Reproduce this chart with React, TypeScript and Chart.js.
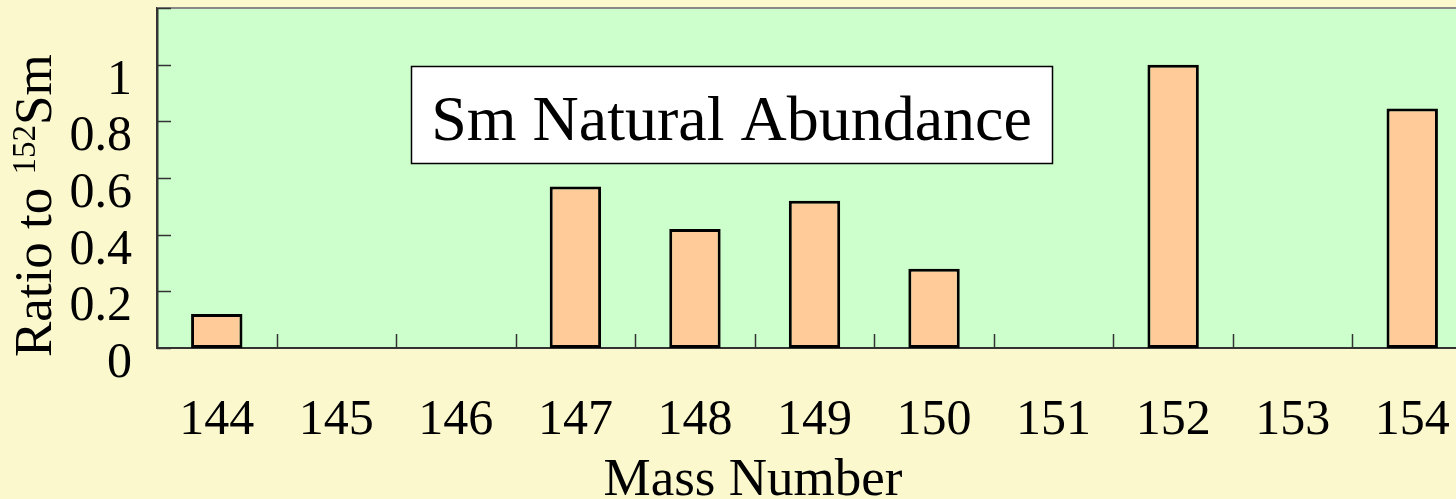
import React, { useEffect, useRef } from 'react';
import { Chart, registerables } from 'chart.js';

Chart.register(...registerables);

// ---- data ----
const massNumbers = ['144', '145', '146', '147', '148', '149', '150', '151', '152', '153', '154'];
const ratioTo152 = [0.12, null, null, 0.57, 0.42, 0.52, 0.28, null, 1.0, null, 0.845];
const yTickValues = [0, 0.2, 0.4, 0.6, 0.8, 1, 1.2];
const yLabelMax = 1;
const yMin = 0;
const yMax = 1.2;
const yTitleMain = 'Ratio to ';
const yTitleSup = '152';
const yTitleEnd = 'Sm';
const xTitle = 'Mass Number';
const boxTitle = 'Sm Natural Abundance';

// ---- styles ----
const SERIF = '"Liberation Serif", "Times New Roman", Times, serif';
const PAGE_BG = '#FBF8CE';
const PLOT_BG = '#CCFFCC';
const BAR_FILL = '#FFCC99';
const CANVAS_W = 1472;
const CANVAS_H = 520;
const PLOT_LEFT = 157;
const PLOT_BOTTOM = 348;

const decorPlugin = {
  id: 'decor',
  beforeDraw(chart: any) {
    const { ctx, chartArea: a, width, height } = chart;
    ctx.save();
    ctx.fillStyle = PAGE_BG;
    ctx.fillRect(0, 0, width, height);
    ctx.fillStyle = PLOT_BG;
    ctx.fillRect(a.left, a.top, a.right - a.left, a.bottom - a.top);
    ctx.restore();
  },
  afterDraw(chart: any) {
    const { ctx, chartArea: a } = chart;
    const xs = chart.scales.x;
    const ys = chart.scales.y;
    ctx.save();
    // top border
    ctx.strokeStyle = '#888888';
    ctx.lineWidth = 2;
    ctx.beginPath();
    ctx.moveTo(a.left, a.top);
    ctx.lineTo(a.right, a.top);
    ctx.stroke();
    // inward y ticks
    ctx.strokeStyle = '#333333';
    ctx.lineWidth = 1.5;
    yTickValues.forEach((v) => {
      const y = Math.round(ys.getPixelForValue(v)) + 0.5;
      ctx.beginPath();
      ctx.moveTo(a.left, y);
      ctx.lineTo(a.left + 14, y);
      ctx.stroke();
    });
    // inward x ticks at category boundaries
    for (let i = 0; i < massNumbers.length - 1; i++) {
      const x = Math.round((xs.getPixelForValue(i) + xs.getPixelForValue(i + 1)) / 2) + 0.5;
      ctx.beginPath();
      ctx.moveTo(x, a.bottom);
      ctx.lineTo(x, a.bottom - 14);
      ctx.stroke();
    }
    // annotation box
    const bx = 411, by = 66, bw = 641, bh = 97;
    ctx.fillStyle = '#FFFFFF';
    ctx.fillRect(bx, by, bw, bh);
    ctx.strokeStyle = '#000000';
    ctx.lineWidth = 1.5;
    ctx.strokeRect(bx + 0.5, by + 0.5, bw, bh);
    ctx.fillStyle = '#000000';
    ctx.font = `64px ${SERIF}`;
    ctx.textAlign = 'center';
    ctx.textBaseline = 'alphabetic';
    ctx.fillText(boxTitle, bx + bw / 2, 140);
    // x axis title
    ctx.font = `53px ${SERIF}`;
    ctx.fillText(xTitle, 753, 495);
    // y axis title with superscript
    ctx.translate(51, 357);
    ctx.rotate(-Math.PI / 2);
    ctx.textAlign = 'left';
    ctx.font = `53px ${SERIF}`;
    ctx.fillText(yTitleMain, 0, 0);
    let w = ctx.measureText(yTitleMain).width;
    ctx.font = `33px ${SERIF}`;
    ctx.fillText(yTitleSup, w, -16);
    w += ctx.measureText(yTitleSup).width;
    ctx.font = `53px ${SERIF}`;
    ctx.fillText(yTitleEnd, w, 0);
    ctx.restore();
  },
};

export default function App() {
  const canvasRef = useRef<HTMLCanvasElement | null>(null);

  useEffect(() => {
    document.body.style.margin = '0';
    const canvas = canvasRef.current;
    if (!canvas) return;
    const chart = new Chart(canvas, {
      type: 'bar',
      data: {
        labels: massNumbers,
        datasets: [
          {
            data: ratioTo152 as any,
            backgroundColor: BAR_FILL,
            borderColor: '#000000',
            borderWidth: 3,
            borderSkipped: false,
            barPercentage: 0.43,
            categoryPercentage: 1,
          },
        ],
      },
      options: {
        animation: false,
        responsive: false,
        devicePixelRatio: 1,
        layout: { padding: { top: 8, left: 0, right: 0, bottom: 0 } },
        plugins: { legend: { display: false }, tooltip: { enabled: false } },
        scales: {
          x: {
            type: 'category',
            offset: true,
            grid: { display: false, drawTicks: false },
            border: { display: true, color: '#333333', width: 2 },
            ticks: {
              color: '#000000',
              font: { family: SERIF, size: 50 },
              padding: 43,
              maxRotation: 0,
              autoSkip: false,
            },
            title: { display: false },
            afterFit: (s: any) => {
              s.height = CANVAS_H - PLOT_BOTTOM;
              s.paddingLeft = 0;
              s.paddingRight = 0;
            },
          },
          y: {
            type: 'linear',
            min: yMin,
            max: yMax,
            grid: { display: false, drawTicks: false },
            border: { display: true, color: '#333333', width: 2.5 },
            afterBuildTicks: (s: any) => {
              s.ticks = yTickValues.map((v) => ({ value: v }));
            },
            ticks: {
              color: '#000000',
              font: { family: SERIF, size: 50 },
              padding: 25,
              labelOffset: 16,
              autoSkip: false,
              crossAlign: 'near',
              callback: (v: any) => (Number(v) > yLabelMax + 1e-6 ? '' : String(Math.round(Number(v) * 10) / 10)),
            },
            afterFit: (s: any) => {
              s.width = PLOT_LEFT;
              s.paddingTop = 0;
              s.paddingBottom = 0;
            },
          },
        },
      },
      plugins: [decorPlugin],
    });
    return () => chart.destroy();
  }, []);

  return (
    <div
      style={{
        position: 'fixed',
        left: 0,
        top: 0,
        width: 1456,
        height: 499,
        overflow: 'hidden',
        background: PAGE_BG,
      }}
    >
      <canvas ref={canvasRef} width={CANVAS_W} height={CANVAS_H} style={{ display: 'block' }} />
    </div>
  );
}
